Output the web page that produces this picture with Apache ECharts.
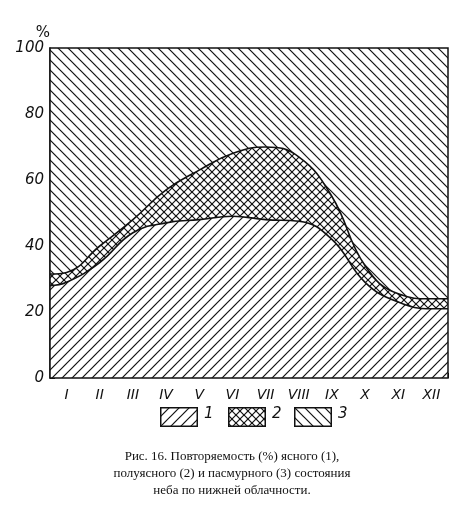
<!DOCTYPE html><html><head><meta charset="utf-8"><script src="https://cdn.jsdelivr.net/npm/echarts@6/dist/echarts.min.js"></script>
<style>body{margin:0;background:#fff}#c{width:465px;height:528px}</style></head><body><div id="c"></div><script>
const months=['I','II','III','IV','V','VI','VII','VIII','IX','X','XI','XII'];
const xPos=[0,0.5,1.5,2.5,3.5,4.5,5.5,6.5,7.5,8.5,9.5,10.5,11.5,12];
const clearPct=[28,29,35,44,47,48,49,48,47.5,42,29,23,21,21];
const upperPct=[31.5,32,40,48,57,63,68,70,67,55,34,25.5,24,24];
const yTicks=[0,20,40,60,80,100];
function tile(type,step){const c=document.createElement('canvas');c.width=c.height=step;const g=c.getContext('2d');g.fillStyle='#fff';g.fillRect(0,0,step,step);g.strokeStyle='#111';g.lineWidth=1.2;
 const line=(a,b,d,e)=>{g.beginPath();g.moveTo(a,b);g.lineTo(d,e);g.stroke();};
 if(type!=='b'){line(-1,step+1,step+1,-1);line(-1,1,1,-1);line(step-1,step+1,step+1,step-1);}
 if(type!=='f'){line(-1,-1,step+1,step+1);line(step-1,-1,step+1,1);line(-1,step-1,1,step+1);}
 return c;}
const t1=tile('f',10),t2=tile('x',8),t3=tile('b',10);
const p1={image:t1,repeat:'repeat'},p2={image:t2,repeat:'repeat'},p3={image:t3,repeat:'repeat'};
function swatch(t,w,h){const c=document.createElement('canvas');c.width=w;c.height=h;const g=c.getContext('2d');g.fillStyle=g.createPattern(t,'repeat');g.fillRect(0,0,w,h);g.strokeStyle='#111';g.lineWidth=1.5;g.strokeRect(0.75,0.75,w-1.5,h-1.5);return c;}
const d1=xPos.map((x,i)=>[x,clearPct[i]]);
const d2=xPos.map((x,i)=>[x,upperPct[i]]);
const d3=xPos.map(x=>[x,100]);
const ch=echarts.init(document.getElementById('c'));
ch.setOption({animation:false,
grid:{left:50,right:17,top:48,bottom:150},
xAxis:[{type:'category',data:months,boundaryGap:true,axisLine:{show:false},axisTick:{show:true,inside:true,length:5,lineStyle:{color:'#111'}},axisLabel:{fontStyle:'italic',fontFamily:'DejaVu Sans',fontSize:14,color:'#111',margin:10}},
 {type:'value',min:0,max:12,show:false}],
yAxis:{type:'value',min:0,max:100,interval:10,name:'%',nameGap:6,nameTextStyle:{fontSize:15,color:'#111',fontFamily:'DejaVu Sans',align:'right'},
 axisLine:{show:true,lineStyle:{color:'#111',width:1.5}},axisTick:{inside:true,length:5,lineStyle:{color:'#111'}},splitLine:{show:false},
 axisLabel:{fontStyle:'italic',fontFamily:'DejaVu Sans',fontSize:15,color:'#111',margin:6,formatter:v=>yTicks.includes(v)?v:''}},
series:[
 {type:'line',xAxisIndex:1,symbol:'none',data:d3,lineStyle:{width:0},areaStyle:{color:p3,opacity:1},z:1},
 {type:'line',xAxisIndex:1,smooth:0.45,symbol:'none',data:d2,lineStyle:{color:'#111',width:1.6},areaStyle:{color:p2,opacity:1},z:2},
 {type:'line',xAxisIndex:1,smooth:0.45,symbol:'none',data:d1,lineStyle:{color:'#111',width:1.6},areaStyle:{color:p1,opacity:1},z:3}],
graphic:[
 {type:'rect',shape:{x:50,y:48,width:398,height:330},style:{fill:'none',stroke:'#111',lineWidth:1.5},z:100},
 {type:'image',left:160,top:407,style:{image:swatch(t1,38,20),width:38,height:20}},
 {type:'text',left:204,top:407,style:{text:'1',font:'italic 15px DejaVu Sans',fill:'#111'}},
 {type:'image',left:228,top:407,style:{image:swatch(t2,38,20),width:38,height:20}},
 {type:'text',left:272,top:407,style:{text:'2',font:'italic 15px DejaVu Sans',fill:'#111'}},
 {type:'image',left:294,top:407,style:{image:swatch(t3,38,20),width:38,height:20}},
 {type:'text',left:338,top:407,style:{text:'3',font:'italic 15px DejaVu Sans',fill:'#111'}},
 {type:'text',x:232,y:448,style:{text:'Рис. 16. Повторяемость (%) ясного (1),\nполуясного (2) и пасмурного (3) состояния\nнеба по нижней облачности.',font:'13px Liberation Serif',fill:'#111',textAlign:'center',lineHeight:17}}
]});
</script></body></html>
